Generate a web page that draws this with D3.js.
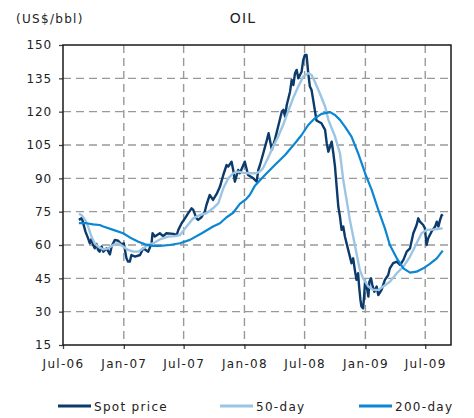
<!DOCTYPE html>
<html>
<head>
<meta charset="utf-8">
<script src="https://cdnjs.cloudflare.com/ajax/libs/d3/7.8.5/d3.min.js"></script>
<style>
	body { margin: 0; background: #fff; }
	text { font-family: 'DejaVu Sans', Verdana, sans-serif; fill: #222; }
</style>
</head>
<body>
<div id="chart_div"></div>
<script>
// oil price, weekly-ish readings
var spot = [
	['2006-08-18', 71.3], ['2006-08-27', 72.1], ['2006-09-07', 66.0], ['2006-09-15', 63.0], ['2006-09-20', 60.8],
	['2006-09-25', 62.6], ['2006-09-30', 60.0], ['2006-10-05', 58.5], ['2006-10-10', 60.5], ['2006-10-15', 57.8],
	['2006-10-20', 57.0], ['2006-10-26', 59.3], ['2006-10-31', 57.0], ['2006-11-10', 58.5], ['2006-11-20', 55.8],
	['2006-11-25', 59.3], ['2006-12-05', 62.3], ['2006-12-15', 61.9], ['2006-12-25', 60.3], ['2007-01-01', 60.8],
	['2007-01-09', 54.0], ['2007-01-14', 52.5], ['2007-01-19', 52.5], ['2007-01-24', 55.5], ['2007-02-04', 54.8],
	['2007-02-19', 55.5], ['2007-03-01', 58.5], ['2007-03-16', 57.0], ['2007-03-26', 60.8], ['2007-03-29', 65.3],
	['2007-04-05', 63.8], ['2007-04-20', 65.3], ['2007-04-30', 64.0], ['2007-05-10', 65.3], ['2007-05-31', 65.0],
	['2007-06-10', 64.5], ['2007-06-15', 66.8], ['2007-06-25', 69.8], ['2007-07-05', 72.0], ['2007-07-15', 74.3],
	['2007-07-25', 76.5], ['2007-07-30', 75.8], ['2007-08-09', 72.0], ['2007-08-14', 71.3], ['2007-08-24', 72.5],
	['2007-09-03', 75.0], ['2007-09-08', 78.0], ['2007-09-18', 82.5], ['2007-09-28', 80.3], ['2007-10-09', 83.0],
	['2007-10-19', 86.3], ['2007-10-29', 91.5], ['2007-11-08', 96.0], ['2007-11-13', 95.3], ['2007-11-23', 97.5],
	['2007-11-28', 93.8], ['2007-12-03', 88.5], ['2007-12-13', 93.8], ['2007-12-18', 92.3], ['2008-01-02', 97.5],
	['2008-01-07', 94.5], ['2008-01-12', 91.5], ['2008-01-28', 90.0], ['2008-02-07', 88.5], ['2008-02-12', 93.8],
	['2008-02-17', 96.0], ['2008-02-27', 101.3], ['2008-03-09', 107.3], ['2008-03-14', 110.3], ['2008-03-24', 102.8],
	['2008-04-02', 107.3], ['2008-04-12', 113.3], ['2008-04-23', 120.0], ['2008-04-28', 120.8], ['2008-05-03', 117.8],
	['2008-05-08', 123.0], ['2008-05-18', 129.0], ['2008-05-23', 134.3], ['2008-05-28', 132.0], ['2008-06-02', 137.3],
	['2008-06-07', 138.8], ['2008-06-12', 135.0], ['2008-06-17', 136.5], ['2008-06-22', 138.0], ['2008-06-27', 143.3],
	['2008-07-02', 145.5], ['2008-07-07', 145.5], ['2008-07-12', 137.3], ['2008-07-17', 131.3], ['2008-07-22', 129.8],
	['2008-07-27', 125.3], ['2008-08-06', 116.0], ['2008-08-21', 114.8], ['2008-09-01', 111.8], ['2008-09-06', 105.8],
	['2008-09-11', 102.0], ['2008-09-21', 106.5], ['2008-09-26', 101.3], ['2008-10-01', 95.3], ['2008-10-06', 86.3],
	['2008-10-11', 77.3], ['2008-10-16', 72.8], ['2008-10-21', 66.8], ['2008-10-26', 68.3], ['2008-10-31', 63.8],
	['2008-11-10', 57.8], ['2008-11-20', 51.8], ['2008-11-25', 54.0], ['2008-11-30', 48.8], ['2008-12-05', 44.3],
	['2008-12-10', 47.3], ['2008-12-13', 41.3], ['2008-12-17', 35.3], ['2008-12-20', 32.3], ['2008-12-25', 31.5],
	['2008-12-28', 36.8], ['2008-12-31', 43.5], ['2009-01-05', 41.3], ['2009-01-10', 36.8], ['2009-01-13', 43.5],
	['2009-01-18', 45.0], ['2009-01-22', 42.0], ['2009-01-28', 39.0], ['2009-02-04', 41.3], ['2009-02-09', 37.5],
	['2009-02-19', 39.8], ['2009-03-01', 44.3], ['2009-03-11', 46.5], ['2009-03-16', 49.5], ['2009-03-26', 51.8],
	['2009-04-06', 52.5], ['2009-04-16', 51.0], ['2009-04-26', 53.3], ['2009-05-06', 57.0], ['2009-05-16', 58.5],
	['2009-05-26', 65.3], ['2009-06-05', 69.0], ['2009-06-10', 72.0], ['2009-06-15', 70.5], ['2009-06-25', 69.0],
	['2009-06-30', 67.5], ['2009-07-05', 60.0], ['2009-07-10', 63.0], ['2009-07-20', 66.0], ['2009-07-31', 68.3],
	['2009-08-05', 70.5], ['2009-08-10', 68.3], ['2009-08-15', 71.3], ['2009-08-20', 73.5], ['2009-08-23', 73.0]
];

var ma_50 = [
	['2006-08-18', 74.0], ['2006-08-26', 73.5], ['2006-09-06', 71.3], ['2006-09-15', 68.3], ['2006-09-25', 63.8],
	['2006-10-05', 60.8], ['2006-10-15', 59.3], ['2006-10-31', 58.0], ['2006-11-15', 58.5], ['2006-11-30', 60.0],
	['2006-12-15', 60.8], ['2006-12-30', 59.3], ['2007-01-14', 57.8], ['2007-01-30', 57.0], ['2007-02-14', 57.0],
	['2007-03-01', 58.5], ['2007-03-16', 60.0], ['2007-03-31', 60.8], ['2007-04-20', 62.5], ['2007-05-15', 63.8],
	['2007-06-05', 64.0], ['2007-06-20', 64.5], ['2007-07-10', 68.3], ['2007-07-30', 72.0], ['2007-08-19', 73.5],
	['2007-09-08', 74.3], ['2007-09-28', 76.5], ['2007-10-14', 78.8], ['2007-10-29', 85.5], ['2007-11-13', 90.0],
	['2007-11-28', 92.3], ['2007-12-13', 93.0], ['2007-12-28', 92.5], ['2008-01-17', 92.3], ['2008-02-06', 92.3],
	['2008-02-16', 93.0], ['2008-02-26', 94.5], ['2008-03-12', 99.0], ['2008-03-28', 104.3], ['2008-04-12', 108.8],
	['2008-04-27', 114.0], ['2008-05-12', 120.0], ['2008-05-27', 126.0], ['2008-06-12', 131.3], ['2008-06-27', 135.8],
	['2008-07-12', 137.3], ['2008-07-22', 136.5], ['2008-08-01', 133.5], ['2008-08-16', 128.3], ['2008-09-01', 122.3],
	['2008-09-11', 116.3], ['2008-10-01', 108.8], ['2008-10-16', 101.3], ['2008-10-26', 89.3], ['2008-11-05', 80.3],
	['2008-11-15', 71.3], ['2008-11-25', 63.8], ['2008-12-05', 56.3], ['2008-12-15', 48.8], ['2008-12-25', 45.0],
	['2009-01-10', 41.3], ['2009-01-25', 39.8], ['2009-02-09', 39.8], ['2009-02-24', 41.3], ['2009-03-16', 43.5],
	['2009-04-06', 47.3], ['2009-04-26', 50.3], ['2009-05-16', 54.8], ['2009-06-05', 60.8], ['2009-06-20', 65.3],
	['2009-07-05', 66.8], ['2009-07-26', 67.0], ['2009-08-23', 67.5]
];

var ma_200 = [
	['2006-08-18', 69.8], ['2006-09-10', 69.8], ['2006-09-30', 69.3], ['2006-10-20', 69.0], ['2006-10-31', 68.3],
	['2006-11-30', 66.8], ['2006-12-30', 65.3], ['2007-01-24', 63.0], ['2007-02-14', 61.5], ['2007-03-06', 60.3],
	['2007-03-31', 59.6], ['2007-04-20', 59.6], ['2007-05-20', 60.0], ['2007-06-20', 60.8], ['2007-07-20', 62.3],
	['2007-08-25', 65.3], ['2007-09-28', 68.3], ['2007-10-19', 69.8], ['2007-11-08', 72.5], ['2007-11-28', 74.5],
	['2007-12-18', 78.5], ['2008-01-07', 80.8], ['2008-01-17', 82.5], ['2008-02-01', 86.5], ['2008-03-03', 91.5],
	['2008-04-02', 96.0], ['2008-05-03', 100.5], ['2008-06-02', 105.8], ['2008-06-22', 109.5], ['2008-07-12', 114.0],
	['2008-08-01', 117.0], ['2008-08-21', 119.0], ['2008-09-16', 119.8], ['2008-10-01', 118.5], ['2008-10-16', 116.3],
	['2008-10-31', 113.3], ['2008-11-20', 108.8], ['2008-12-10', 101.3], ['2008-12-31', 92.3], ['2009-01-20', 84.8],
	['2009-02-09', 75.8], ['2009-03-01', 67.5], ['2009-03-16', 60.0], ['2009-04-06', 54.0], ['2009-04-26', 49.5],
	['2009-05-16', 47.6], ['2009-06-05', 48.0], ['2009-06-25', 49.5], ['2009-07-15', 51.5], ['2009-08-05', 54.0],
	['2009-08-23', 57.5]
];

var y_ticks = [15, 30, 45, 60, 75, 90, 105, 120, 135, 150];
var x_ticks = ['2006-07-01', '2007-01-01', '2007-07-01', '2008-01-01', '2008-07-01', '2009-01-01', '2009-07-01'];
var x_extent = ['2006-07-01', '2009-09-17'];
var series_names = ['Spot price', '50-day', '200-day'];
var series_colours = ['#0b3a6b', '#9cc5e3', '#0a86d2'];

var chart = { left: 63, right: 451, top: 45, bottom: 345 };

function initialise_chart() {
	var svg = d3
		.select('#chart_div')
		.append('svg')
		.attr('width', 474)
		.attr('height', 418);

	var parse = d3.timeParse('%Y-%m-%d');
	var x_scale = d3
		.scaleTime()
		.domain(x_extent.map(parse))
		.range([chart.left, chart.right]);
	var y_scale = d3
		.scaleLinear()
		.domain([15, 150])
		.range([chart.bottom, chart.top]);

	draw_grid(svg, x_scale, y_scale, parse);
	draw_axes(svg, x_scale, y_scale, parse);

	var all_series = [spot, ma_50, ma_200];
	var my_line = d3
		.line()
		.x((d) => x_scale(parse(d[0])))
		.y((d) => y_scale(d[1]));

	svg.selectAll('.series_line')
		.data(all_series)
		.enter()
		.append('path')
		.attr('class', 'series_line')
		.attr('fill', 'none')
		.attr('stroke', (d, i) => series_colours[i])
		.attr('stroke-width', (d, i) => (i === 2 ? 2.2 : 2.4))
		.attr('stroke-linejoin', 'round')
		.attr('d', my_line);

	draw_header(svg);
	draw_legend(svg);
}

function draw_grid(svg, x_scale, y_scale, parse) {
	// one dashed path per grid line
	var grid = svg.append('g').attr('class', 'grid');
	grid.selectAll('.h_grid')
		.data(y_ticks.slice(1, -1))
		.enter()
		.append('path')
		.attr('class', 'h_grid')
		.attr('d', (d) => 'M' + chart.left + ',' + y_scale(d) + 'H' + chart.right);
	grid.selectAll('.v_grid')
		.data(x_ticks.slice(1))
		.enter()
		.append('path')
		.attr('class', 'v_grid')
		.attr('d', (d) => 'M' + x_scale(parse(d)) + ',' + chart.top + 'V' + chart.bottom);
	grid.selectAll('path')
		.attr('fill', 'none')
		.attr('stroke', '#999999')
		.attr('stroke-width', 1.4)
		.attr('stroke-dasharray', '8,5');
}

function draw_axes(svg, x_scale, y_scale, parse) {
	var y_axis = d3
		.axisLeft(y_scale)
		.tickValues(y_ticks)
		.tickSize(4)
		.tickPadding(7);
	var y_group = svg
		.append('g')
		.attr('transform', 'translate(' + chart.left + ',0)')
		.call(y_axis);

	var x_axis = d3
		.axisBottom(x_scale)
		.tickValues(x_ticks.map(parse))
		.tickFormat(d3.timeFormat('%b-%y'))
		.tickSize(4)
		.tickPadding(10);
	var x_group = svg
		.append('g')
		.attr('transform', 'translate(0,' + chart.bottom + ')')
		.call(x_axis);

	[x_group, y_group].forEach(function (g) {
		g.select('.domain').remove();
		g.selectAll('.tick line').attr('stroke', '#444').attr('stroke-width', 1.3);
		g.selectAll('.tick text')
			.attr('font-family', "'DejaVu Sans', Verdana, sans-serif")
			.attr('font-size', 12)
			.attr('fill', '#222');
	});
	x_group.selectAll('.tick text').attr('letter-spacing', 1.3);
	y_group.selectAll('.tick text').attr('letter-spacing', 0.9);

	// plot frame
	var frame = d3.path();
	frame.rect(chart.left, chart.top, chart.right - chart.left, chart.bottom - chart.top);
	svg.append('path')
		.attr('class', 'plot_frame')
		.attr('d', frame.toString())
		.attr('fill', 'none')
		.attr('stroke', '#1a1a1a')
		.attr('stroke-width', 1.5);
}

function draw_header(svg) {
	svg.append('text')
		.attr('x', 16)
		.attr('y', 23)
		.attr('font-size', 12)
		.attr('letter-spacing', 1.3)
		.text('(US$/bbl)');

	svg.append('text')
		.attr('x', 243)
		.attr('y', 23)
		.attr('text-anchor', 'middle')
		.attr('font-size', 14)
		.attr('letter-spacing', 1.2)
		.text('OIL');
}

function draw_legend(svg) {
	var legend_x = [58, 220, 359];
	var legend_y = 406;
	var legend = svg
		.selectAll('.legend_item')
		.data(series_names)
		.enter()
		.append('g')
		.attr('class', 'legend_item')
		.attr('transform', (d, i) => 'translate(' + legend_x[i] + ',' + legend_y + ')');

	legend.append('line')
		.attr('x1', 0)
		.attr('x2', 33)
		.attr('y1', 0)
		.attr('y2', 0)
		.attr('stroke', (d, i) => series_colours[i])
		.attr('stroke-width', 3);

	legend.append('text')
		.attr('x', 36)
		.attr('y', 4.5)
		.attr('font-size', 12)
		.attr('letter-spacing', 1.3)
		.text((d) => d);
}

initialise_chart();
</script>
</body>
</html>
